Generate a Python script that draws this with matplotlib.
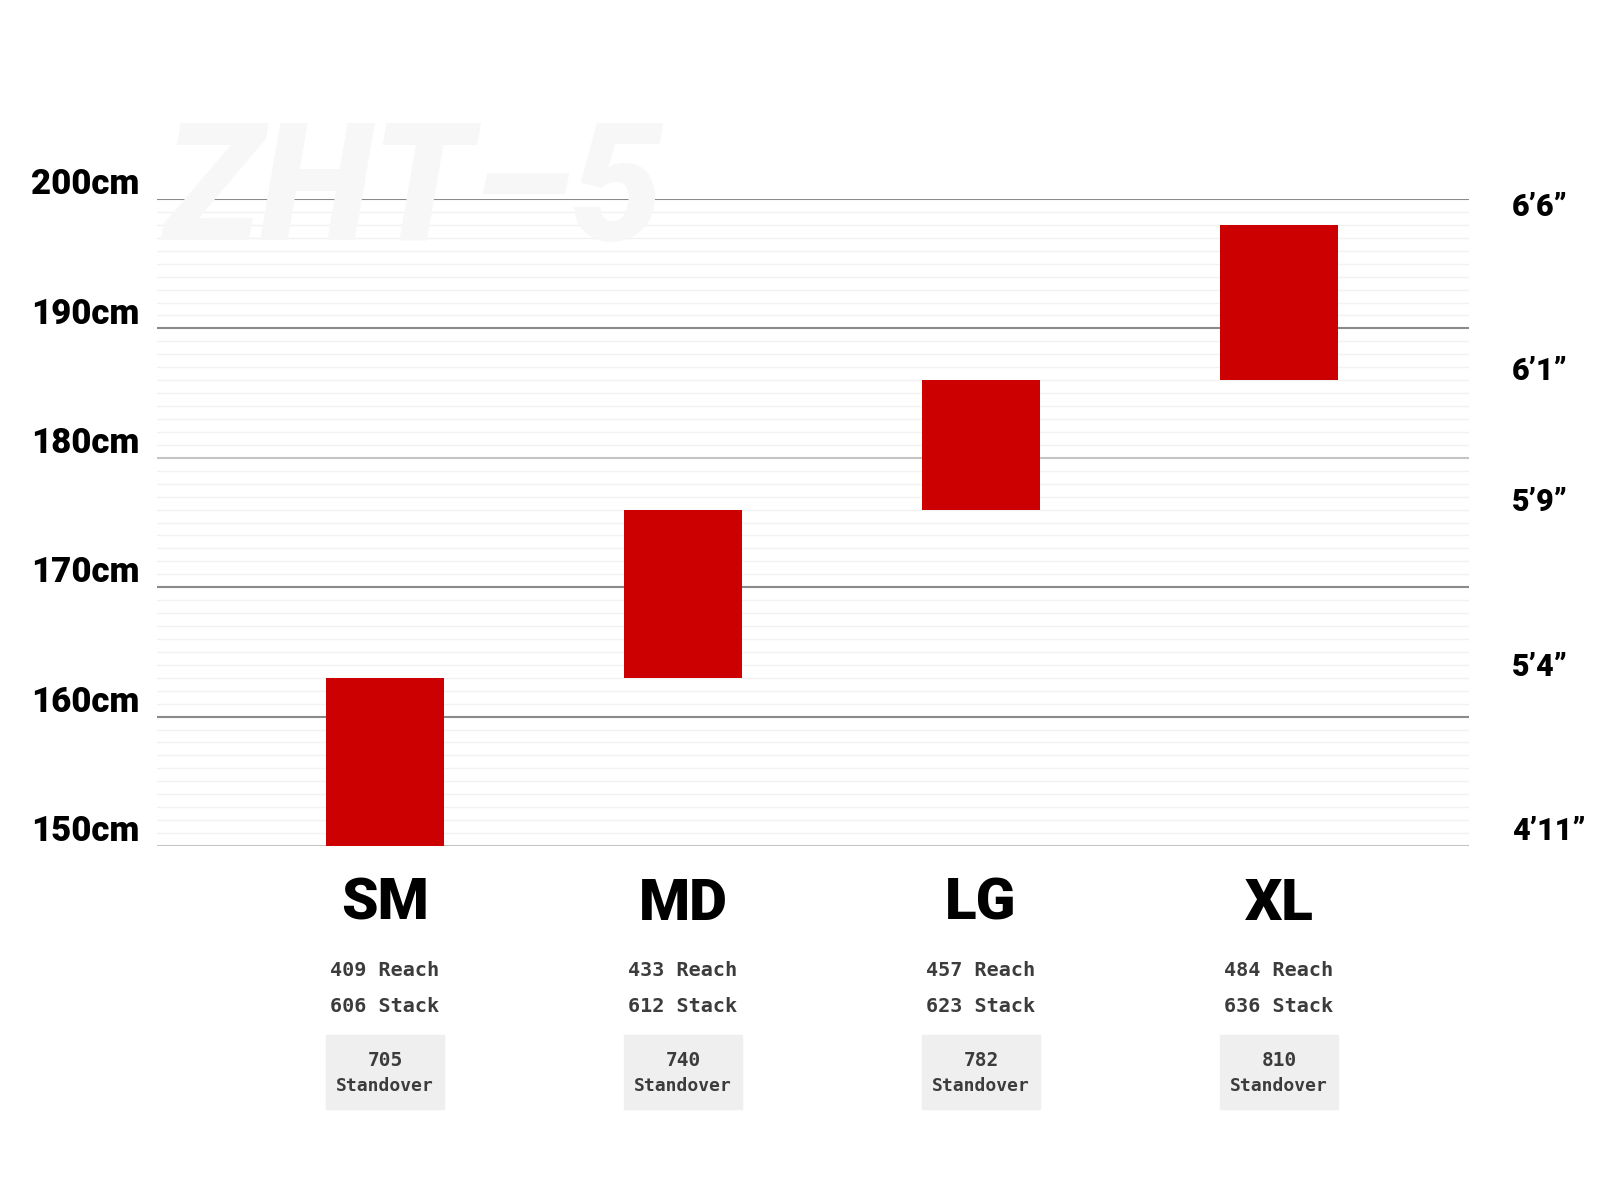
import matplotlib.pyplot as plt
from matplotlib.transforms import blended_transform_factory

# Size chart data
sizes = ["SM", "MD", "LG", "XL"]
height_low = [150, 163, 176, 186]
height_high = [163, 176, 186, 198]
reach = [409, 433, 457, 484]
stack = [606, 612, 623, 636]
standover = [705, 740, 782, 810]

cm_ticks = [150, 160, 170, 180, 190, 200]
ft_labels = ["4’11”", "5’4”", "5’9”", "6’1”", "6’6”"]
ft_inches = [59, 64, 69, 73, 78]

W, H = 1600, 1200
fig = plt.figure(figsize=(16, 12), dpi=100)
fig.patch.set_facecolor("white")

# axes placed in pixel coords of the reference
left, right, top, bottom = 157, 1469, 199, 846
ax = fig.add_axes([left / W, 1 - bottom / H, (right - left) / W, (bottom - top) / H])
spacing = 298
ax.set_xlim(-(385 - left) / spacing, (right - 385) / spacing)
ax.set_ylim(150, 200)
ax.axis("off")

cond = ["Roboto", "DejaVu Sans"]
mono = ["DejaVu Sans Mono"]

# watermark
fig.text(163 / W, 1 - 240 / H, "ZHT–5", fontsize=118, fontweight="heavy",
         style="italic", family=cond, color="#f7f7f7", zorder=0)

# faint minor lines
for v in range(150, 200):
    if v % 10 != 0:
        ax.axhline(v, color="#f2f2f2", lw=1, zorder=1)

# major lines
for v in cm_ticks:
    col = "#c4c4c4" if v in (150, 180) else "#8a8a8a"
    lw = 2.2 if v == 150 else 1.5
    ax.axhline(v, color=col, lw=lw, zorder=2)

x = list(range(len(sizes)))
ax.bar(x, [h - l for l, h in zip(height_low, height_high)], bottom=height_low,
       width=118 / spacing, color="#cc0000", zorder=3)

# left cm labels
tl = blended_transform_factory(fig.transFigure, ax.transData)
for v in cm_ticks:
    fig.text(31 / W, v + 1.1, f"{v}cm", transform=tl, fontsize=25,
             fontweight="heavy", family=cond, color="black",
             va="center", ha="left")

# right feet/inch labels
for lab, inch in zip(ft_labels, ft_inches):
    fig.text(1512 / W, inch * 2.54 + 1.3, lab, transform=tl, fontsize=22,
             fontweight="heavy", family=cond, color="black",
             va="center", ha="left")

# labels under bars
tb = blended_transform_factory(ax.transData, fig.transFigure)
for i, s in enumerate(sizes):
    ax.text(i, 1 - 904 / H, s, transform=tb, fontsize=42, fontweight="heavy",
            family=cond, ha="center", va="center")
    ax.text(i, 1 - 971 / H, f"{reach[i]} Reach", transform=tb, fontsize=14.5,
            family=mono, fontweight="bold", color="#3c3c3c", ha="center", va="center")
    ax.text(i, 1 - 1006 / H, f"{stack[i]} Stack", transform=tb, fontsize=14.5,
            family=mono, fontweight="bold", color="#3c3c3c", ha="center", va="center")
    ax.add_patch(plt.Rectangle((i - 59 / spacing, 1 - 1109 / H), 118 / spacing, 74 / H,
                               transform=tb, color="#efefef", clip_on=False, zorder=2))
    ax.text(i, 1 - 1060 / H, str(standover[i]), transform=tb, fontsize=14,
            family=mono, fontweight="bold", color="#3c3c3c", ha="center", va="center", zorder=4)
    ax.text(i, 1 - 1086 / H, "Standover", transform=tb, fontsize=13,
            family=mono, fontweight="bold", color="#3c3c3c", ha="center", va="center", zorder=4)

fig.savefig("out.png", dpi=100, facecolor="white")
